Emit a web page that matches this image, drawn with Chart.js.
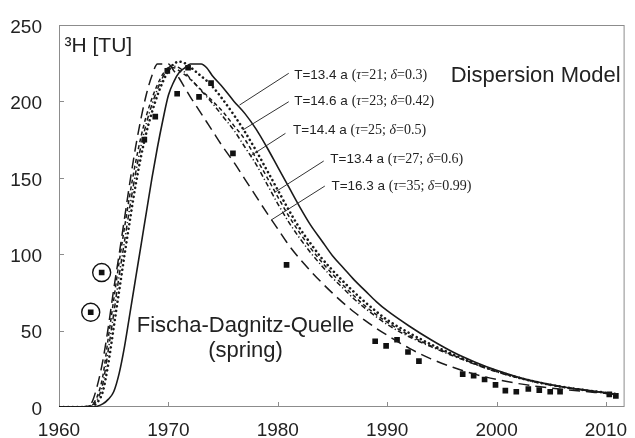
<!DOCTYPE html>
<html>
<head>
<meta charset="utf-8">
<script src="https://cdn.jsdelivr.net/npm/chart.js@4/dist/chart.umd.min.js"></script>
<style>
  html, body { margin: 0; padding: 0; background: #fff; }
  #chart { display: block; }
</style>
</head>
<body>
<canvas id="chart" width="635" height="438"></canvas>
<script>
// time axis shared by all model curves
const years = [1960, 1961, 1962, 1962.5, 1963, 1963.5, 1964, 1964.5, 1965, 1965.5,
    1966, 1966.5, 1967, 1967.5, 1968, 1968.5, 1969, 1969.5, 1970, 1970.5,
    1971, 1971.5, 1972, 1972.5, 1973, 1973.5, 1974, 1975, 1976, 1977,
    1978, 1979, 1980, 1981, 1982, 1983, 1984, 1985, 1986, 1987,
    1988, 1989, 1990, 1992, 1994, 1996, 1998, 2000, 2002, 2004,
    2006, 2008, 2010, 2011];

// dispersion model output, tritium in TU
const dmTau21 = [0, 0, 0, 0, 0, 0.5, 2, 5, 10, 22,
    40, 62, 84, 106, 128, 150, 170, 188, 204, 213,
    219, 222, 224.5, 224.5, 224.5, 222, 217, 209, 200, 192,
    182, 170, 157, 144, 131, 119, 109, 99, 91, 83,
    76, 69, 63, 53, 44, 36, 29.5, 24, 19.5, 16,
    13.3, 11.2, 9.3, 8.4];
const dmTau23 = [0, 0, 0, 0, 0.5, 3, 10, 28, 52, 76,
    100, 123, 145, 164, 180, 193, 204, 213, 220, 224.5,
    226, 225, 222.5, 219.5, 216.5, 213.5, 210, 201, 191, 180,
    168, 155, 142, 129, 117, 107, 97.5, 89.5, 82, 75,
    68.5, 62.5, 57, 48.5, 41, 34.5, 28.5, 23.5, 19.2, 15.8,
    13.2, 11.1, 9.3, 8.4];
const dmTau25 = [0, 0, 0, 0.2, 1, 5, 15, 37, 61, 86,
    109, 132, 153, 171, 186, 198, 208, 216, 222, 223,
    222, 219, 215, 211, 207, 203, 199, 190, 181, 170,
    159, 146, 133, 121, 110.5, 101, 92.5, 84.5, 77.5, 70.5,
    64.5, 59, 54, 46, 39.5, 33.5, 28, 23, 19, 15.7,
    13.1, 11, 9.2, 8.3];
const dmTau27 = [0, 0, 0, 0.3, 1.5, 7, 20, 45, 70, 95,
    118, 140, 160, 177, 191, 202, 211, 218, 222, 222,
    220, 217.5, 214.5, 211, 207.5, 204, 200.5, 193, 184, 175,
    163, 150.5, 137.5, 125, 114, 104, 95, 87, 79.5, 72.5,
    66, 60.5, 55.5, 47, 40, 34, 28.3, 23.3, 19.1, 15.7,
    13.1, 11, 9.2, 8.3];
const dmTau35 = [0, 0, 0, 0.5, 3, 14, 30, 52, 77, 100,
    124, 148, 170, 189, 205, 217, 224.5, 224.5, 224.5, 220,
    215, 209, 203, 197.5, 192, 186.5, 181, 170, 160, 149,
    138, 127, 116.5, 106, 97, 89, 81.5, 74.5, 68, 62,
    56.5, 51.5, 47, 38.5, 31.5, 26, 21.5, 18, 15.3, 13.2,
    11.6, 10.2, 8.9, 8.2];

// spring samples
const sampleYears = [1962.9, 1963.9, 1967.8, 1968.8, 1969.9, 1970.8, 1971.8, 1972.8, 1973.9, 1975.9,
    1980.8, 1988.9, 1989.9, 1990.9, 1991.9, 1992.9, 1996.9, 1997.9, 1998.9, 1999.9,
    2000.8, 2001.8, 2002.9, 2003.9, 2004.9, 2005.8, 2010.3, 2010.9];
const sampleTU = [62, 88, 175, 190, 220, 205, 222, 203, 212, 166,
    93, 43, 40, 44, 36, 30, 21.5, 20.5, 18, 14.5,
    10.7, 10, 11.8, 11, 10, 10, 8.3, 7.3];
// the two early samples ringed on the plot
const ringedYears = [1962.9, 1963.9];
const ringedTU = [62, 88];

const xTicks = [1960, 1970, 1980, 1990, 2000, 2010];
const yTicks = [0, 50, 100, 150, 200, 250];

const modelNotes = [
    { head: "T=13.4 a", tau: "21", delta: "0.3", at: [1981.5, 214.7], from: [1981.0, 218.4], to: [1976.5, 197.6] },
    { head: "T=14.6 a", tau: "23", delta: "0.42", at: [1981.5, 197.6], from: [1981.0, 199.8], to: [1976.8, 181.3] },
    { head: "T=14.4 a", tau: "25", delta: "0.5", at: [1981.4, 178.7], from: [1980.7, 179.1], to: [1977.5, 164.3] },
    { head: "T=13.4 a", tau: "27", delta: "0.6", at: [1984.8, 159.7], from: [1984.2, 161.0], to: [1979.7, 140.4] },
    { head: "T=16.3 a", tau: "35", delta: "0.99", at: [1984.9, 142.0], from: [1984.3, 144.6], to: [1979.4, 122.4] },
];

const SANS = '"Liberation Sans", Arial, sans-serif';
const SERIF = '"Liberation Serif", "Times New Roman", serif';
const INK = '#1a1a1a';
const FRAME = '#8c8c8c';

function pairs(xs, ys) {
    return xs.map((x, i) => ({ x: x, y: ys[i] }));
}

function drawRuns(ctx, x, y, runs) {
    for (const r of runs) {
        ctx.font = r.font;
        ctx.fillText(r.text, x, y);
        x += ctx.measureText(r.text).width;
    }
}

// keep the plot box fixed, no room reserved for overhanging labels
function noOverhang(s) {
    s.paddingLeft = 0;
    s.paddingRight = 0;
    s.paddingTop = 0;
    s.paddingBottom = 0;
}

const decorations = {
    id: "decorations",
    beforeDatasetsDraw(chart) {
        const { ctx, chartArea: a, scales } = chart;
        ctx.save();
        ctx.strokeStyle = FRAME;
        ctx.lineWidth = 1;
        ctx.strokeRect(a.left + 0.5, a.top + 0.5, a.right - a.left - 1, a.bottom - a.top - 1);
        // inward tick marks
        ctx.beginPath();
        xTicks.slice(1).forEach(v => {
            const px = Math.round(scales.x.getPixelForValue(v)) + 0.5;
            ctx.moveTo(px, a.bottom);
            ctx.lineTo(px, a.bottom - 5);
        });
        yTicks.slice(1, -1).forEach(v => {
            const py = Math.round(scales.y.getPixelForValue(v)) + 0.5;
            ctx.moveTo(a.left, py);
            ctx.lineTo(a.left + 5, py);
        });
        ctx.stroke();
        ctx.restore();
    },
    afterDatasetsDraw(chart) {
        const { ctx, scales } = chart;
        const px = v => scales.x.getPixelForValue(v);
        const py = v => scales.y.getPixelForValue(v);
        ctx.save();
        ctx.fillStyle = '#222';
        ctx.textBaseline = 'alphabetic';

        // y-axis title inside the frame
        ctx.font = '21px ' + SANS;
        ctx.textAlign = 'left';
        ctx.fillText('\u00b3H [TU]', px(1960.5), py(232.5));

        ctx.font = '22px ' + SANS;
        ctx.fillText('Dispersion Model', px(1995.8), py(212.7));

        ctx.textAlign = 'center';
        ctx.fillText('Fischa-Dagnitz-Quelle', px(1977.05), py(49.1));
        ctx.fillText('(spring)', px(1977.05), py(32.7));

        // model labels with leader lines
        ctx.textAlign = 'left';
        ctx.strokeStyle = '#333';
        ctx.lineWidth = 1;
        modelNotes.forEach(n => {
            ctx.beginPath();
            ctx.moveTo(px(n.from[0]), py(n.from[1]));
            ctx.lineTo(px(n.to[0]), py(n.to[1]));
            ctx.stroke();
            drawRuns(ctx, px(n.at[0]), py(n.at[1]), [
                { text: n.head + ' ', font: '13.5px ' + SANS },
                { text: '(', font: '14px ' + SERIF },
                { text: '\u03c4', font: 'italic 14px ' + SERIF },
                { text: '=' + n.tau + '; ', font: '14px ' + SERIF },
                { text: '\u03b4', font: 'italic 14px ' + SERIF },
                { text: '=' + n.delta + ')', font: '14px ' + SERIF },
            ]);
        });
        ctx.restore();
    }
};

const curve = {
    borderColor: INK,
    borderWidth: 1.5,
    pointRadius: 0,
    fill: false,
    cubicInterpolationMode: 'monotone',
};

new Chart(document.getElementById("chart"), {
    type: "line",
    data: {
        datasets: [
            { ...curve, label: "T=13.4 a (tau=21; delta=0.3)", data: pairs(years, dmTau21), borderWidth: 1.6 },
            { ...curve, label: "T=14.6 a (tau=23; delta=0.42)", data: pairs(years, dmTau23),
              borderWidth: 2.6, borderDash: [0.01, 4.6], borderCapStyle: 'round' },
            { ...curve, label: "T=14.4 a (tau=25; delta=0.5)", data: pairs(years, dmTau25),
              borderDash: [5, 2.5, 1.2, 2.5] },
            { ...curve, label: "T=13.4 a (tau=27; delta=0.6)", data: pairs(years, dmTau27),
              borderDash: [4, 3] },
            { ...curve, label: "T=16.3 a (tau=35; delta=0.99)", data: pairs(years, dmTau35),
              borderDash: [11, 6] },
            { label: "samples", data: pairs(sampleYears, sampleTU), showLine: false,
              pointStyle: 'rect', pointRadius: 4, backgroundColor: '#111', borderColor: '#111', borderWidth: 0 },
            { label: "ringed", data: pairs(ringedYears, ringedTU), showLine: false,
              pointStyle: 'circle', pointRadius: 9, backgroundColor: 'rgba(0,0,0,0)', borderColor: '#111', borderWidth: 1.4 },
        ],
    },
    options: {
        responsive: false,
        animation: false,
        devicePixelRatio: 1,
        layout: { padding: { left: 0, top: 25, right: 4, bottom: 0 } },
        plugins: { legend: { display: false }, tooltip: { enabled: false } },
        scales: {
            x: {
                type: 'linear',
                min: 1960,
                max: 2011.7,
                afterBuildTicks: s => { s.ticks = xTicks.map(v => ({ value: v })); },
                afterFit: s => { s.height = 31; noOverhang(s); },
                grid: { display: false, drawTicks: false },
                border: { display: false },
                ticks: { color: '#222', font: { family: SANS, size: 19 }, padding: 12, maxRotation: 0,
                         callback: v => String(v) },
            },
            y: {
                min: 0,
                max: 250,
                afterBuildTicks: s => { s.ticks = yTicks.map(v => ({ value: v })); },
                afterFit: s => { s.width = 59; noOverhang(s); },
                grid: { display: false, drawTicks: false },
                border: { display: false },
                ticks: { color: '#222', font: { family: SANS, size: 19 }, padding: 17, labelOffset: 2.5 },
            },
        },
    },
    plugins: [decorations],
});
</script>
</body>
</html>
